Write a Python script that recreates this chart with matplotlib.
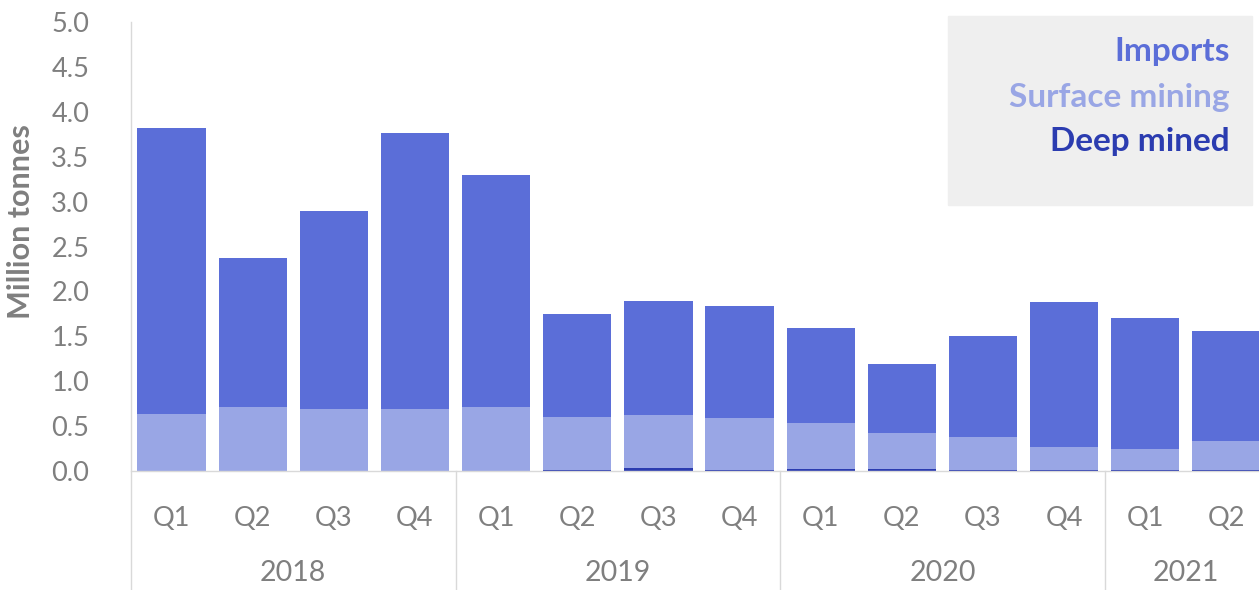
import numpy as np
import matplotlib.pyplot as plt
from matplotlib.patches import Rectangle
import matplotlib.transforms as mtransforms

plt.rcParams['font.family'] = ['Lato', 'DejaVu Sans']

quarters = ['Q1', 'Q2', 'Q3', 'Q4', 'Q1', 'Q2', 'Q3', 'Q4', 'Q1', 'Q2', 'Q3', 'Q4', 'Q1', 'Q2']
years = ['2018', '2019', '2020', '2021']
year_counts = [4, 4, 4, 2]

# million tonnes per quarter
deep_mined = [0.0, 0.0, 0.0, 0.0, 0.0, 0.015, 0.03, 0.01, 0.025, 0.025, 0.01, 0.01, 0.01, 0.01]
surface_mining = [0.63, 0.71, 0.69, 0.69, 0.71, 0.585, 0.59, 0.58, 0.505, 0.395, 0.37, 0.26, 0.24, 0.32]
imports = [3.19, 1.66, 2.21, 3.07, 2.59, 1.15, 1.27, 1.25, 1.06, 0.77, 1.12, 1.61, 1.45, 1.23]

c_imp = '#5b6ed8'
c_surf = '#99a6e5'
c_deep = '#2b3cb0'
grey = '#7f7f7f'
line_grey = '#d9d9d9'

fig = plt.figure(figsize=(12.59, 5.9), dpi=100)
# the last quarter runs off the right edge of the figure
ax = fig.add_axes([0.104, 0.2017, 0.9024, 0.761])

x = np.arange(len(quarters))
w = 0.84
deep = np.array(deep_mined)
surf = np.array(surface_mining)
imp = np.array(imports)
ax.bar(x, deep, w, color=c_deep, linewidth=0)
ax.bar(x, surf, w, bottom=deep, color=c_surf, linewidth=0)
ax.bar(x, imp, w, bottom=deep + surf, color=c_imp, linewidth=0)

ax.set_xlim(-0.5, len(quarters) - 0.5)
ax.set_ylim(0, 5)
ax.set_yticks(np.arange(0, 5.01, 0.5))
ax.set_yticklabels([f'{v:.1f}' for v in np.arange(0, 5.01, 0.5)])
ax.tick_params(axis='y', length=0, pad=30, labelsize=19.5, labelcolor=grey)
ax.set_xticks(x)
ax.set_xticklabels(quarters)
ax.tick_params(axis='x', length=0, pad=25, labelsize=19.5, labelcolor=grey)
for s in ['top', 'right', 'left']:
    ax.spines[s].set_visible(False)
ax.spines['bottom'].set_color(line_grey)
ax.spines['bottom'].set_linewidth(1)

ax.set_ylabel('Million tonnes', fontsize=22, fontweight='bold', color=grey)
ax.yaxis.set_label_coords(-0.0845, 0.555)

# year groups under the quarters
trans = mtransforms.blended_transform_factory(ax.transData, ax.transAxes)
ybot = -0.262
ax.plot([-0.5, -0.5], [ybot, 1.0], transform=trans, color=line_grey, lw=1, clip_on=False)
start = 0
for yr, n in zip(years, year_counts):
    end = start + n
    if end < len(quarters):
        ax.plot([end - 0.5, end - 0.5], [ybot, 0], transform=trans, color=line_grey, lw=1, clip_on=False)
    ax.text((start + end - 1) / 2, -0.228, yr, transform=trans, ha='center', va='center',
            fontsize=20.5, color=grey)
    start = end

# legend box
fig.patches.append(Rectangle((948 / 1259, 1 - 205 / 590), 304 / 1259, 189 / 590,
                             transform=fig.transFigure, color='#efefef', zorder=0))
for label, col, yp in [('Imports', c_imp, 51), ('Surface mining', c_surf, 97), ('Deep mined', c_deep, 142)]:
    fig.text(1230 / 1259, 1 - yp / 590, label, ha='right', va='center', fontsize=24,
             fontweight='bold', color=col)

fig.savefig('out.png', dpi=100)
